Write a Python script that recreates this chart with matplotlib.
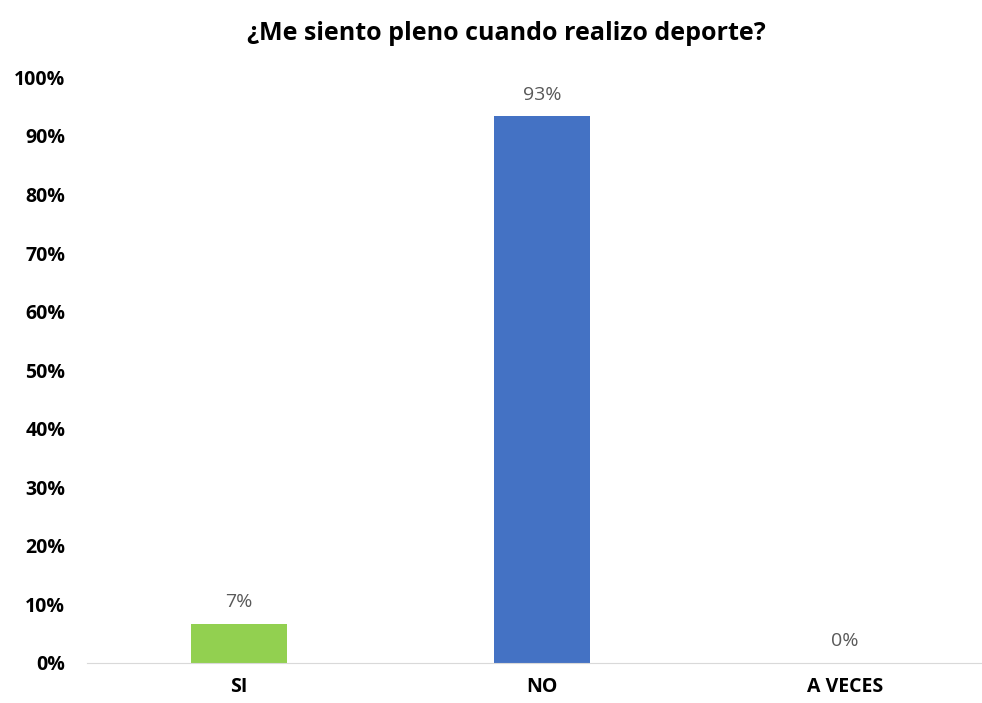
import matplotlib.pyplot as plt
from matplotlib.ticker import PercentFormatter

categorias = ["SI", "NO", "A VECES"]
porcentajes = [6.67, 93.33, 0.0]
etiquetas = ["7%", "93%", "0%"]
colores = ["#92D050", "#4472C4", "#A5A5A5"]

plt.rcParams['font.family'] = ['Open Sans', 'DejaVu Sans']

fig = plt.figure(figsize=(9.82, 7.03), dpi=100)
ax = fig.add_axes([0.089, 0.057, 0.926, 0.833])

x = range(len(categorias))
bars = ax.bar(x, porcentajes, width=0.315, color=colores)

for b, v, t in zip(bars, porcentajes, etiquetas):
    ax.text(b.get_x() + b.get_width() / 2, v + 2.2, t, ha="center", va="bottom",
            fontsize=14, color="#595959")

ax.set_xlim(-0.5, 2.5)
ax.set_ylim(0, 100)
ax.set_yticks(range(0, 101, 10))
ax.yaxis.set_major_formatter(PercentFormatter(decimals=0))
ax.set_xticks(list(x))
ax.set_xticklabels(categorias)

for s in ["top", "right", "left"]:
    ax.spines[s].set_visible(False)
ax.spines["bottom"].set_color("#D9D9D9")
ax.tick_params(axis="both", length=0, labelsize=14)
ax.tick_params(axis="y", pad=16)
ax.tick_params(axis="x", pad=10)
for lbl in ax.get_xticklabels() + ax.get_yticklabels():
    lbl.set_fontweight("bold")

fig.text(0.516, 0.97, "¿Me siento pleno cuando realizo deporte?", fontsize=18,
         fontweight="bold", ha="center", va="top")

fig.savefig("out.png", dpi=100)
